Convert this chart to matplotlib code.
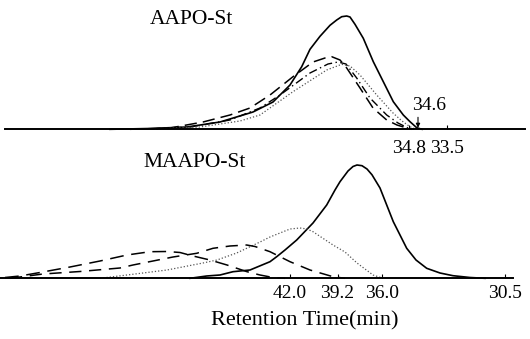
import matplotlib
matplotlib.use("Agg")
import matplotlib.pyplot as plt

plt.rcParams['font.family'] = ['Liberation Serif', 'DejaVu Serif']

# ---- AAPO-St chromatograms (elution position, detector response) ----
aapo_solid_x = [110, 150, 187, 220, 253, 273, 290, 301.7, 310, 320, 330, 336.7,
                341.7, 346.7, 350, 355, 363.3, 373.3, 383.3, 393.3, 403.3, 410,
                416.7, 422]
aapo_solid_y = [0, 0.8, 2.3, 7.3, 17.3, 27.3, 44.3, 62.6, 80, 93, 104, 109.3,
                112.6, 113.3, 112.3, 105, 91, 67.6, 47.6, 27.6, 14.3, 7.6,
                1.6, 0]

aapo_dash_x = [130, 170, 203, 230, 250, 270, 293, 313, 325, 331.7, 340, 346.7,
               360, 373, 386.7, 397, 406.7, 412]
aapo_dash_y = [0, 1.3, 7.3, 14.3, 21.3, 34.3, 52.6, 67.3, 71.3, 72.6, 69.3, 61.3,
               41.3, 21.3, 9.3, 4.3, 1.3, 0]

aapo_dashdot_x = [140, 190, 230, 260, 280, 310, 328, 338, 346, 356.7, 370, 386.7,
                  398, 408, 414]
aapo_dashdot_y = [0, 2.3, 9.3, 21.3, 34.3, 56.3, 65.3, 67.3, 65.3, 51.3, 31.3, 14.3,
                  6.3, 1.3, 0]

aapo_dot_x = [150, 200, 240, 260, 293, 326.7, 341.7, 350, 360, 376.7, 393, 402,
              410, 416]
aapo_dot_y = [0, 2.3, 8.3, 14.3, 37.6, 59.3, 65, 63.3, 54.3, 34.3, 16.3, 8.3,
              2.6, 0]

aapo_tick_pos = [409, 447]
aapo_tick_labels = ['34.8', '33.5']
aapo_arrow_pos = 418
aapo_arrow_label = '34.6'

# ---- MAAPO-St chromatograms ----
maapo_solid_x = [190, 206.7, 220, 233, 250, 270, 276.7, 285, 296.7, 313, 326.7,
                 335, 340, 348, 353, 357, 362, 367, 372, 380, 393.3, 406.7, 416,
                 426.7, 440, 453, 470, 485]
maapo_solid_y = [0, 2.3, 3.3, 6.6, 8.3, 16.6, 21.6, 28.3, 38.3, 55.3, 73.3,
                 88.3, 96.6, 107.3, 111.8, 113.3, 112.6, 109.3, 103.5, 90.3,
                 56.6, 30, 18.3, 10, 5.3, 2.6, 0.8, 0]

maapo_dot_x = [100, 127, 167, 203, 217, 236.7, 260, 270, 290, 300, 307, 313,
               333, 345, 357, 365, 373, 383]
maapo_dot_y = [0, 3.3, 8.3, 15.3, 18.3, 25.3, 36.3, 41.3, 49.3, 50.3, 49.3, 46.6,
               33.3, 26.3, 15.3, 9.3, 3.3, 0]

maapo_dashA_x = [10, 43, 80, 120, 133, 173, 196.7, 213, 230, 246.7, 255, 270,
                 290, 310, 333, 345]
maapo_dashA_y = [0, 4.3, 6.8, 10.3, 13.3, 21.3, 25, 30, 32.3, 33.3, 31.8, 26.6,
                 16.6, 8.3, 1.6, 0]

maapo_dashB_x = [5, 20, 40, 70, 100, 127, 150, 167, 180, 193, 210, 227, 247,
                 260, 273, 285]
maapo_dashB_y = [0.8, 2.3, 5.8, 11.3, 17.3, 23.3, 26.6, 26.8, 25.8, 22.3, 18.3,
                 13.3, 6.6, 3.3, 0.8, 0]

maapo_tick_pos = [290, 337.5, 382, 505]
maapo_tick_labels = ['42.0', '39.2', '36.0', '30.5']

W, H = 530, 339
fig = plt.figure(figsize=(W / 100, H / 100), dpi=100)

# upper panel: spans 0..140 px from the top, baseline at 129.3 px
ax1 = fig.add_axes([0, 1 - 140 / H, 1, 140 / H])
ax1.set_xlim(0, W)
ax1.set_ylim(-10.7, 129.3)

# lower panel: spans 145..339 px from the top, baseline at 278.3 px
ax2 = fig.add_axes([0, 0, 1, 194 / H])
ax2.set_xlim(0, W)
ax2.set_ylim(-60.7, 133.3)

for ax in (ax1, ax2):
    ax.patch.set_alpha(0)
    for side in ('top', 'left', 'right'):
        ax.spines[side].set_visible(False)
    ax.spines['bottom'].set_position(('data', 0))
    ax.spines['bottom'].set_linewidth(1.4)
    ax.set_yticks([])
    ax.tick_params(axis='x', direction='in', length=3, width=0.8,
                   labelsize=14, pad=5)

ax1.tick_params(axis='x', pad=8)
ax1.spines['bottom'].set_bounds(5, 525)
ax2.spines['bottom'].set_bounds(0, 513)

ax1.plot(aapo_solid_x, aapo_solid_y, color='k', lw=1.2, solid_joinstyle='round')
ax1.plot(aapo_dash_x, aapo_dash_y, color='k', lw=1.1, ls=(0, (8, 4)))
ax1.plot(aapo_dashdot_x, aapo_dashdot_y, color='k', lw=1.0, ls=(0, (6, 2.5, 1, 2.5)))
ax1.plot(aapo_dot_x, aapo_dot_y, color='#555555', lw=0.9, ls=(0, (1, 1.6)))

ax2.plot(maapo_solid_x, maapo_solid_y, color='k', lw=1.2, solid_joinstyle='round')
ax2.plot(maapo_dot_x, maapo_dot_y, color='#555555', lw=0.9, ls=(0, (1, 1.6)))
ax2.plot(maapo_dashA_x, maapo_dashA_y, color='k', lw=1.1, ls=(0, (8, 5)))
ax2.plot(maapo_dashB_x, maapo_dashB_y, color='k', lw=1.1, ls=(0, (9, 5)))

ax1.set_xticks(aapo_tick_pos, aapo_tick_labels)
ax2.set_xticks(maapo_tick_pos, maapo_tick_labels)

# marked peak-end position with its value above
ax1.annotate('', xy=(aapo_arrow_pos, 1.5), xytext=(aapo_arrow_pos, 12),
             arrowprops=dict(arrowstyle='-|>', color='k', lw=0.8,
                             mutation_scale=6, shrinkA=0, shrinkB=0))
ax1.text(429, 23.5, aapo_arrow_label, ha='center', va='center', fontsize=14)

ax1.text(191.5, 109.8, 'AAPO-St', ha='center', va='center', fontsize=15.5)
ax2.text(195, 115.8, 'MAAPO-St', ha='center', va='center', fontsize=15.5)

fig.text(305 / W, 1 - 321 / H, 'Retention Time(min)', ha='center', va='center',
         fontsize=16)

fig.savefig('out.png', dpi=100)
